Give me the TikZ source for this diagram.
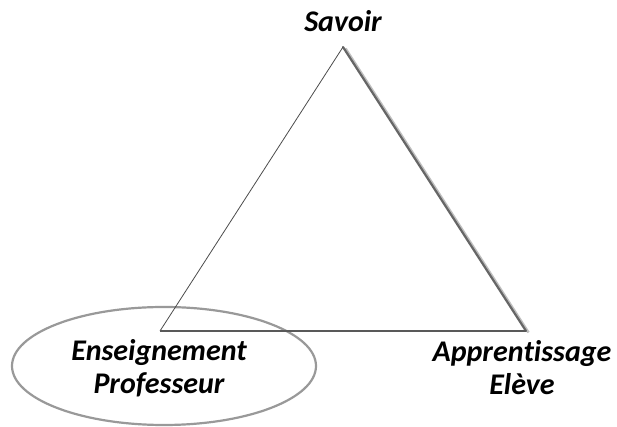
\documentclass[tikz,border=0pt]{standalone}
\usepackage{fontspec}
\setmainfont[Ligatures={NoCommon}]{Carlito}
\usetikzlibrary{shapes.geometric,calc}
\begin{document}
\begin{tikzpicture}[x=1pt,y=1pt,
  lbl/.style={font=\fontsize{30}{33}\selectfont\bfseries\itshape, align=center, inner sep=0pt},
  thin edge/.style={draw=black!70, line width=0.8pt},
  base edge/.style={draw=black!65, line width=1.2pt},
  thick edge/.style={draw=black!60, line width=2.2pt},
  shadow edge/.style={draw=black!25, line width=2.5pt}]
\useasboundingbox (0,0) rectangle (617,427);
\fill[white] (0,0) rectangle (617,427);
\coordinate (A) at (343,380);
\coordinate (B) at (160,96);
\coordinate (C) at (526,96);
\node[draw=black!40, line width=2.2pt, ellipse, minimum width=304pt, minimum height=118pt, inner sep=0pt] (E) at (164,61) {};
\draw[shadow edge] ($(A)+(2.5,-1.5)$) -- ($(C)+(2.5,-1.5)$);
\draw[thick edge, line cap=round] (A) -- (C);
\draw[thin edge] (A) -- (B);
\draw[base edge] (B) -- (C);
\node[lbl] (sav) at (343,406) {Savoir};
\node[lbl] (ens) at (159,59) {Enseignement\\Professeur};
\node[lbl] (app) at (522,59) {Appren\mbox{t}issage\\Elève};
\end{tikzpicture}
\end{document}
